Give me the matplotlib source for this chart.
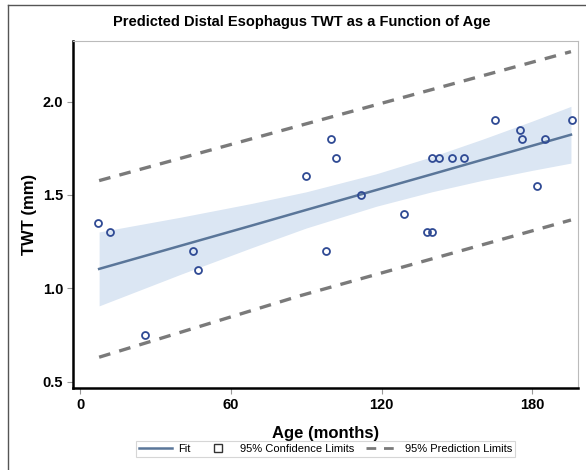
import matplotlib.pyplot as plt
from matplotlib.lines import Line2D

plt.rcParams['font.family'] = ['Liberation Sans', 'DejaVu Sans']

# observed points (age in months, TWT in mm)
age = [7, 12, 26, 45, 47, 90, 98, 100, 102, 112, 129, 138, 140, 140,
       143, 148, 153, 165, 175, 176, 182, 185, 196]
twt = [1.35, 1.30, 0.75, 1.20, 1.10, 1.60, 1.20, 1.80, 1.70, 1.50, 1.40, 1.30, 1.30, 1.70,
       1.70, 1.70, 1.70, 1.90, 1.85, 1.80, 1.55, 1.80, 1.90]

# fit and confidence band
band_x = [7.6, 40, 68, 90, 118, 140, 160, 180, 195.4]
fit_y = [1.104, 1.228, 1.335, 1.420, 1.527, 1.611, 1.688, 1.764, 1.823]
ci_hi = [1.302, 1.381, 1.454, 1.517, 1.614, 1.705, 1.798, 1.896, 1.975]
ci_lo = [0.906, 1.075, 1.216, 1.323, 1.440, 1.517, 1.578, 1.632, 1.671]

# prediction limits
pl_x = [7.6, 87.5, 195.4]
pl_hi = [1.577, 1.872, 2.268]
pl_lo = [0.631, 0.960, 1.366]

xticks = [0, 60, 120, 180]
yticks = [0.5, 1.0, 1.5, 2.0]

fig = plt.figure(figsize=(5.86, 4.70), dpi=100)
ax = fig.add_axes([73 / 586, 1 - 388 / 470, (578 - 73) / 586, (388 - 41) / 470])

band_col = '#dbe6f3'
fit_col = '#5a7699'
pt_col = '#2f4a94'
dash_col = '#7a7a7a'

ax.fill_between(band_x, ci_lo, ci_hi, color=band_col, lw=0, zorder=1)
ax.plot(band_x, fit_y, color=fit_col, lw=1.8, zorder=2)
ax.plot(pl_x, pl_hi, color=dash_col, lw=2.4, ls=(0, (3.5, 2.8)), zorder=2)
ax.plot(pl_x, pl_lo, color=dash_col, lw=2.4, ls=(0, (3.5, 2.8)), zorder=2)
ax.plot(age, twt, ls='none', marker='o', ms=5, mfc='none', mec=pt_col, mew=1.3, zorder=3)

ax.set_xlim(-2.8, 198.2)
ax.set_ylim(0.466, 2.325)
ax.set_xticks(xticks)
ax.set_yticks(yticks)
ax.set_xticklabels([str(t) for t in xticks])
ax.set_yticklabels([f'{t:.1f}' for t in yticks])
ax.tick_params(direction='out', length=4, width=0.8, color='#999999', pad=3,
               labelsize=10.5)
for lab in ax.get_xticklabels() + ax.get_yticklabels():
    lab.set_fontweight('bold')

for s in ['left', 'bottom']:
    ax.spines[s].set_linewidth(1.8)
    ax.spines[s].set_color('black')
for s in ['top', 'right']:
    ax.spines[s].set_linewidth(0.8)
    ax.spines[s].set_color('#bbbbbb')

ax.set_xlabel('Age (months)', fontsize=12, fontweight='bold', labelpad=10)
ax.set_ylabel('TWT (mm)', fontsize=12, fontweight='bold', labelpad=4)

fig.text(302 / 586, 1 - 22 / 470, 'Predicted Distal Esophagus TWT as a Function of Age',
         ha='center', va='center', fontsize=10.5, fontweight='bold')

handles = [
    Line2D([], [], color=fit_col, lw=1.8),
    Line2D([], [], ls='none', marker='s', ms=6, mfc='none', mec='#333333', mew=1),
    Line2D([], [], color=dash_col, lw=2, ls=(0, (3.5, 2.8))),
]
labels = ['Fit', '95% Confidence Limits', '95% Prediction Limits']
leg = fig.legend(handles, labels, ncol=3, loc='lower center',
                 bbox_to_anchor=(325.5 / 586, 1 - 463 / 470), fontsize=8,
                 frameon=True, fancybox=False, edgecolor='#cccccc',
                 handlelength=3, handletextpad=0.5, columnspacing=1.0,
                 borderpad=0.3)
leg.get_frame().set_linewidth(0.8)

# outer frame lines at left and top of the image
fig.add_artist(Line2D([8 / 586, 8 / 586], [0, 1 - 5 / 470], color='#555555', lw=1,
                      transform=fig.transFigure))
fig.add_artist(Line2D([8 / 586, 1], [1 - 5 / 470, 1 - 5 / 470], color='#555555', lw=1,
                      transform=fig.transFigure))

fig.savefig('out.png', dpi=100)
